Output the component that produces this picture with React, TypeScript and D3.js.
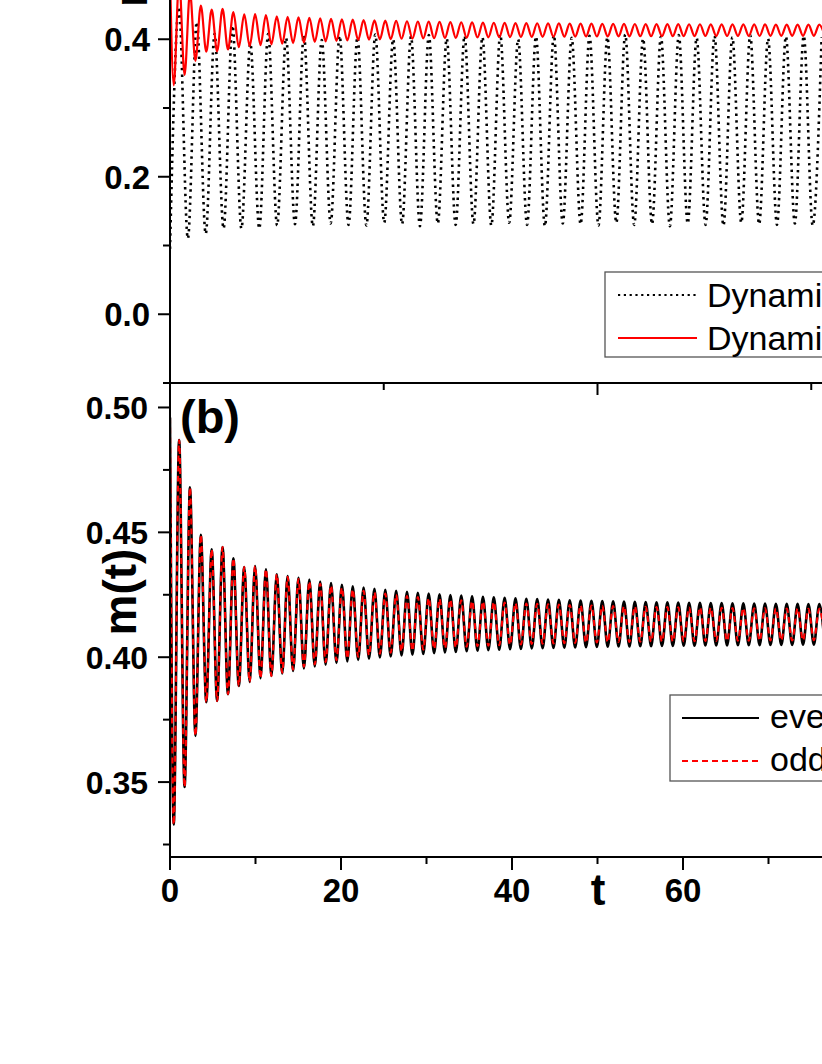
import React from 'react';
import * as d3 from 'd3';

// ---------- data ----------
// x axis (shared)
const xMajorTicks = [0, 20, 40, 60, 80, 100];
const xMinorTicks = [10, 30, 50, 70, 90];
const xTopMajorTicks = [0, 50, 100];
const xTopMinorTicks = [25, 75];

// panel (a) y axis
const aYMajorTicks = [0.0, 0.2, 0.4, 0.6];
const aYMajorLabels = ['0.0', '0.2', '0.4', '0.6'];
const aYMinorTicks = [-0.1, 0.1, 0.3, 0.5];

// panel (b) y axis
const bYMajorTicks = [0.35, 0.4, 0.45, 0.5];
const bYMajorLabels = ['0.35', '0.40', '0.45', '0.50'];
const bYMinorTicks = [0.325, 0.375, 0.425, 0.475];

// m(t): extrema of the oscillation, on a grid t = mT0 + k * mHalfPeriod
const mT0 = -0.2;
const mHalfPeriod = 0.6345;
const evenStart = 0.496;
const evenTroughs = [
  0.333, 0.348, 0.3685, 0.382, 0.3825, 0.3852, 0.3885, 0.3901, 0.3916, 0.3925,
  0.3935, 0.3945, 0.3955, 0.3963, 0.397, 0.3977, 0.3983, 0.3989, 0.3994, 0.3999,
  0.4003, 0.4007, 0.401, 0.4013, 0.4016, 0.4019, 0.4021, 0.4024, 0.4026, 0.4028,
  0.403, 0.4032, 0.4033, 0.4035, 0.4036, 0.4037, 0.4038, 0.4039, 0.404, 0.4041,
  0.4042, 0.4043, 0.4043, 0.4044, 0.4044, 0.4045, 0.4045, 0.4046, 0.4046, 0.4047,
  0.4047, 0.4047, 0.4048, 0.4048, 0.4048, 0.4049, 0.4049, 0.4049, 0.405, 0.405, 0.405,
];
const evenPeaks = [
  0.487, 0.468, 0.449, 0.4432, 0.4441, 0.4396, 0.4361, 0.4365, 0.4352, 0.4332,
  0.4325, 0.4318, 0.4311, 0.4303, 0.4297, 0.429, 0.4284, 0.4279, 0.4274, 0.427,
  0.4266, 0.4262, 0.4258, 0.4255, 0.4252, 0.4249, 0.4247, 0.4244, 0.4242, 0.424,
  0.4238, 0.4236, 0.4234, 0.4233, 0.4231, 0.423, 0.4228, 0.4227, 0.4226, 0.4225,
  0.4224, 0.4223, 0.4222, 0.4221, 0.422, 0.422, 0.4219, 0.4218, 0.4218, 0.4217,
  0.4217, 0.4216, 0.4216, 0.4215, 0.4215, 0.4214, 0.4214, 0.4214, 0.4213, 0.4213,
];
const oddStart = 0.496;
const oddTroughs = [
  0.333, 0.348, 0.3685, 0.382, 0.3825, 0.3852, 0.3885, 0.3901, 0.3916, 0.3925,
  0.3938, 0.395, 0.3962, 0.3971, 0.398, 0.3988, 0.3995, 0.4002, 0.4008, 0.4014,
  0.4018, 0.4023, 0.4026, 0.403, 0.4033, 0.4036, 0.4039, 0.4042, 0.4044, 0.4046,
  0.4048, 0.405, 0.4051, 0.4053, 0.4054, 0.4055, 0.4056, 0.4057, 0.4058, 0.4059,
  0.406, 0.4061, 0.4061, 0.4062, 0.4062, 0.4063, 0.4063, 0.4064, 0.4064, 0.4065,
  0.4065, 0.4065, 0.4066, 0.4066, 0.4066, 0.4067, 0.4067, 0.4067, 0.4068, 0.4068, 0.4068,
];
const oddPeaks = [
  0.487, 0.468, 0.449, 0.4432, 0.4441, 0.4396, 0.4361, 0.4365, 0.4352, 0.4332,
  0.4322, 0.4313, 0.4304, 0.4294, 0.4287, 0.4279, 0.4272, 0.4266, 0.426, 0.4255,
  0.425, 0.4245, 0.4241, 0.4237, 0.4234, 0.4231, 0.4228, 0.4225, 0.4223, 0.4221,
  0.4219, 0.4217, 0.4215, 0.4214, 0.4212, 0.4211, 0.4209, 0.4208, 0.4207, 0.4206,
  0.4205, 0.4204, 0.4203, 0.4202, 0.4201, 0.4201, 0.42, 0.4199, 0.4199, 0.4198,
  0.4198, 0.4197, 0.4197, 0.4196, 0.4196, 0.4195, 0.4195, 0.4195, 0.4194, 0.4194,
];

// panel (a) dotted curve: extrema on grid t = k * dynHalfPeriod (trough first)
const dynHalfPeriod = 1.044;
const dynTroughs = [
  0.095, 0.11, 0.117, 0.1246, 0.1246, 0.1246, 0.129, 0.131, 0.128, 0.132,
  0.13, 0.129, 0.133, 0.131, 0.128, 0.132, 0.13, 0.131, 0.129, 0.133,
  0.13, 0.128, 0.132, 0.131, 0.129, 0.133, 0.13, 0.131, 0.128, 0.132,
  0.13, 0.129, 0.133, 0.131, 0.13, 0.132, 0.129,
];
const dynPeaks = [
  0.447, 0.425, 0.408, 0.42, 0.394, 0.408, 0.402, 0.406, 0.399, 0.405,
  0.403, 0.407, 0.4, 0.404, 0.406, 0.401, 0.405, 0.403, 0.407, 0.4,
  0.404, 0.406, 0.402, 0.405, 0.403, 0.407, 0.401, 0.404, 0.406, 0.402,
  0.405, 0.403, 0.406, 0.401, 0.404, 0.405, 0.403,
];

const legendA = ['Dynamical evolution (a1)', 'Dynamical evolution (a2)'];
const legendB = ['even', 'odd'];

// ---------- helpers ----------
type P = { t: number; v: number };
function mSeries(start: number, troughs: number[], peaks: number[]): P[] {
  const pts: P[] = [{ t: 0, v: start }];
  const n = troughs.length + peaks.length;
  for (let k = 1; k <= n; k++) {
    const v = k % 2 === 1 ? troughs[(k - 1) / 2] : peaks[k / 2 - 1];
    pts.push({ t: mT0 + k * mHalfPeriod, v });
  }
  return pts;
}
function dynSeries(): P[] {
  const pts: P[] = [];
  const n = dynTroughs.length + dynPeaks.length;
  for (let k = 0; k < n; k++) {
    const v = k % 2 === 0 ? dynTroughs[k / 2] : dynPeaks[(k - 1) / 2];
    pts.push({ t: k * dynHalfPeriod, v });
  }
  return pts;
}

const FONT = '"Liberation Sans", Arial, Helvetica, sans-serif';

export default function App() {
  const x = d3.scaleLinear().domain([0, 100]).range([170, 1025]);
  const yA = d3.scaleLinear().domain([-0.1, 0.6]).range([383, -98.25]);
  const yB = d3.scaleLinear().domain([0.32, 0.51]).range([857, 382.5]);

  const evenPts = mSeries(evenStart, evenTroughs, evenPeaks);
  const oddPts = mSeries(oddStart, oddTroughs, oddPeaks);
  const dynPts = dynSeries();

  const lineA = d3.line<P>().x(d => x(d.t)).y(d => yA(d.v)).curve(d3.curveMonotoneX);
  const lineB = d3.line<P>().x(d => x(d.t)).y(d => yB(d.v)).curve(d3.curveMonotoneX);

  const axisX0 = x(0);
  const bottomY = yB(0.32);
  const midY = 383;
  const topY = yA(0.6);

  const tickStyle = { stroke: '#000', strokeWidth: 2 };

  return (
    <svg
      width={822}
      height={1064}
      style={{ position: 'absolute', left: 0, top: 0, background: '#fff' }}
      fontFamily={FONT}
    >
      <defs>
        <clipPath id="clipA">
          <rect x={axisX0} y={topY} width={1025 - axisX0} height={midY - topY} />
        </clipPath>
        <clipPath id="clipB">
          <rect x={axisX0} y={midY} width={1025 - axisX0} height={bottomY - midY} />
        </clipPath>
      </defs>
      <rect x={0} y={0} width={822} height={1064} fill="#fff" />

      {/* panel (a) curves */}
      <g clipPath="url(#clipA)">
        <path d={lineA(dynPts) || ''} fill="none" stroke="#000" strokeWidth={2.6} strokeDasharray="2.4,4.2" />
        <path d={lineA(evenPts) || ''} fill="none" stroke="#ff0000" strokeWidth={2.2} />
      </g>

      {/* panel (b) curves */}
      <g clipPath="url(#clipB)">
        <path d={lineB(evenPts) || ''} fill="none" stroke="#000" strokeWidth={2.6} />
        <path d={lineB(oddPts) || ''} fill="none" stroke="#ff0000" strokeWidth={2.1} strokeDasharray="6,4" />
      </g>

      {/* axes lines */}
      <line x1={axisX0} y1={topY} x2={axisX0} y2={bottomY} {...tickStyle} />
      <line x1={axisX0 - 7} y1={midY} x2={1025} y2={midY} {...tickStyle} />
      <line x1={axisX0} y1={bottomY} x2={1025} y2={bottomY} {...tickStyle} />

      {/* panel a y ticks */}
      {aYMajorTicks.map((v, i) => (
        <g key={'aym' + i}>
          <line x1={axisX0 - 12} x2={axisX0} y1={yA(v)} y2={yA(v)} {...tickStyle} />
          <text x={150} y={yA(v) + 12} textAnchor="end" fontSize={33} fontWeight="bold">
            {aYMajorLabels[i]}
          </text>
        </g>
      ))}
      {aYMinorTicks.map((v, i) => (
        <line key={'ayn' + i} x1={axisX0 - 7} x2={axisX0} y1={yA(v)} y2={yA(v)} {...tickStyle} />
      ))}

      {/* panel a bottom ticks (pointing down) */}
      {xTopMajorTicks.map((t, i) => (
        <line key={'xtm' + i} x1={x(t)} x2={x(t)} y1={midY} y2={midY + 12} {...tickStyle} />
      ))}
      {xTopMinorTicks.map((t, i) => (
        <line key={'xtn' + i} x1={x(t)} x2={x(t)} y1={midY} y2={midY + 7} {...tickStyle} />
      ))}

      {/* panel b y ticks */}
      {bYMajorTicks.map((v, i) => (
        <g key={'bym' + i}>
          <line x1={axisX0 - 12} x2={axisX0} y1={yB(v)} y2={yB(v)} {...tickStyle} />
          <text x={148} y={yB(v) + 12} textAnchor="end" fontSize={32} fontWeight="bold">
            {bYMajorLabels[i]}
          </text>
        </g>
      ))}
      {bYMinorTicks.map((v, i) => (
        <line key={'byn' + i} x1={axisX0 - 7} x2={axisX0} y1={yB(v)} y2={yB(v)} {...tickStyle} />
      ))}

      {/* bottom x ticks */}
      {xMajorTicks.map((t, i) => (
        <g key={'xm' + i}>
          <line x1={x(t)} x2={x(t)} y1={bottomY} y2={bottomY + 13} {...tickStyle} />
          <text x={x(t)} y={902} textAnchor="middle" fontSize={33} fontWeight="bold">
            {String(t)}
          </text>
        </g>
      ))}
      {xMinorTicks.map((t, i) => (
        <line key={'xn' + i} x1={x(t)} x2={x(t)} y1={bottomY} y2={bottomY + 7} {...tickStyle} />
      ))}

      {/* axis labels */}
      <text x={598} y={905} textAnchor="middle" fontSize={44} fontWeight="bold">t</text>
      <text transform="translate(136,592) rotate(-90)" textAnchor="middle" fontSize={46} fontWeight="bold">m(t)</text>
      <text transform="translate(147,7) rotate(-90)" textAnchor="start" fontSize={46} fontWeight="bold">n(t)</text>
      <text x={180} y={433} fontSize={47} fontWeight="bold">(b)</text>

      {/* legend a */}
      <rect x={605} y={272} width={380} height={85} fill="#fff" stroke="#555" strokeWidth={1.3} />
      <line x1={618} x2={697} y1={295} y2={295} stroke="#000" strokeWidth={2} strokeDasharray="2.2,3.6" />
      <text x={707} y={307} fontSize={34}>{legendA[0]}</text>
      <line x1={618} x2={697} y1={338} y2={338} stroke="#ff0000" strokeWidth={2} />
      <text x={707} y={350} fontSize={34}>{legendA[1]}</text>

      {/* legend b */}
      <rect x={670} y={695} width={200} height={86} fill="#fff" stroke="#555" strokeWidth={1.3} />
      <line x1={682} x2={759} y1={718} y2={718} stroke="#000" strokeWidth={2} />
      <text x={770} y={728} fontSize={34}>{legendB[0]}</text>
      <line x1={682} x2={759} y1={761} y2={761} stroke="#ff0000" strokeWidth={2} strokeDasharray="6,4" />
      <text x={770} y={771} fontSize={34}>{legendB[1]}</text>
    </svg>
  );
}
